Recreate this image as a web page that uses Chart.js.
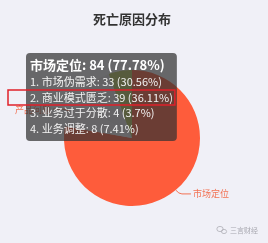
<!DOCTYPE html>
<html><head><meta charset="utf-8">
<script src="https://cdn.jsdelivr.net/npm/chart.js@4/dist/chart.umd.min.js"></script>
<style>html,body{margin:0;padding:0;background:#f0f0f7;} canvas{display:block;}</style>
</head><body><canvas id="c" width="268" height="243"></canvas>
<script>
const chartTitle = '死亡原因分布';
const categories = ['市场定位', '产品问题', '团队问题', '资金问题'];
const values = [84, 8, 10, 6];
const sliceColors = ['#fe5c3b', '#ece9ef', '#e4e2ea', '#b8c55a'];
const subCategories = ['市场伪需求', '商业模式匮乏', '业务过于分散', '业务调整'];
const subValues = [33, 39, 4, 8];
const highlightLine = 1;
const watermark = '三言财经';

const FONT = '"Noto Sans CJK SC", "Noto Sans", sans-serif';
const total = values.reduce((a, b) => a + b, 0);
const pct = v => parseFloat((v / total * 100).toFixed(2)) + '%';
const labelColor = '#f27254';

const TT = {padTop: 4, padBottom: 5.5, padX: 4, titleSize: 13, bodySize: 11, lh: 1.2, titleMB: 2.6, bodySpacing: 2.5};

Chart.Tooltip.positioners.fixedTopLeft = function () {
  const ca = this.chart.chartArea;
  const cx = (ca.left + ca.right) / 2, cy = (ca.top + ca.bottom) / 2;
  return {x: cx - 102, y: cy - 85, xAlign: 'left', yAlign: 'top'};
};

const labelPlugin = {
  id: 'outerLabels',
  afterDatasetsDraw(chart) {
    const meta = chart.getDatasetMeta(0);
    const ctx = chart.ctx;
    ctx.save();
    meta.data.forEach((arc, i) => {
      if (i > 1) return;
      const mid = (arc.startAngle + arc.endAngle) / 2;
      const dx = Math.cos(mid), dy = Math.sin(mid);
      const r = arc.outerRadius;
      const p0 = [arc.x + dx * r, arc.y + dy * r];
      const p1 = [arc.x + dx * (r + 5), arc.y + dy * (r + 5)];
      const s = dx >= 0 ? 1 : -1;
      const p2 = [p1[0] + s * 12, p1[1]];
      ctx.strokeStyle = labelColor;
      ctx.lineWidth = 1;
      ctx.beginPath();
      ctx.moveTo(p0[0], p0[1]);
      ctx.quadraticCurveTo(p1[0], p1[1], p1[0] + s * 3, p1[1]);
      ctx.lineTo(p2[0], p2[1]);
      ctx.stroke();
      ctx.fillStyle = labelColor;
      ctx.font = '9px ' + FONT;
      ctx.textBaseline = 'middle';
      ctx.textAlign = s > 0 ? 'left' : 'right';
      ctx.fillText(categories[i], p2[0] + s * 2, p2[1]);
    });
    ctx.restore();
  },
  afterDraw(chart) {
    const ctx = chart.ctx;
    const tt = chart.tooltip;
    ctx.save();
    if (tt && tt.opacity) {
      const bodyTop = tt.y + TT.padTop + TT.titleSize * TT.lh + TT.titleMB;
      const bl = TT.bodySize * TT.lh;
      const cyL = bodyTop + highlightLine * (bl + TT.bodySpacing) + bl / 2;
      ctx.strokeStyle = '#e0202a';
      ctx.lineWidth = 1.5;
      ctx.strokeRect(tt.x - 18, cyL - 7.5, tt.width + 16, 15);
    }
    // watermark
    const wx = chart.width - 10, wy = chart.height - 13;
    ctx.font = '7px ' + FONT;
    ctx.fillStyle = '#a8a8b0';
    ctx.textAlign = 'right';
    ctx.textBaseline = 'middle';
    ctx.fillText(watermark, wx, wy);
    const tw = ctx.measureText(watermark).width;
    const ix = wx - tw - 8;
    ctx.strokeStyle = '#b0b0b8';
    ctx.lineWidth = 0.8;
    ctx.beginPath(); ctx.ellipse(ix - 2, wy - 1, 3.2, 2.6, 0, 0, Math.PI * 2); ctx.stroke();
    ctx.beginPath(); ctx.ellipse(ix + 2, wy + 1.5, 2.6, 2.1, 0, 0, Math.PI * 2); ctx.stroke();
    ctx.restore();
  }
};

const chart = new Chart(document.getElementById('c'), {
  type: 'pie',
  data: {
    labels: categories,
    datasets: [{
      data: values,
      backgroundColor: sliceColors,
      hoverBackgroundColor: sliceColors,
      borderWidth: 0,
      hoverOffset: 0
    }]
  },
  options: {
    responsive: false,
    animation: false,
    events: [],
    layout: {padding: {left: 60, right: 64, top: 0, bottom: 37}},
    plugins: {
      legend: {display: false},
      title: {
        display: true, text: chartTitle, color: '#333',
        font: {family: FONT, size: 13, weight: 'bold', lineHeight: 1.2},
        padding: {top: 11, bottom: 43.4}
      },
      tooltip: {
        enabled: true,
        position: 'fixedTopLeft',
        xAlign: 'left', yAlign: 'top',
        backgroundColor: 'rgba(50,50,50,0.72)',
        titleColor: '#fff', bodyColor: '#f2f2f2',
        titleFont: {family: FONT, size: TT.titleSize, weight: 'bold', lineHeight: TT.lh},
        bodyFont: {family: FONT, size: TT.bodySize, lineHeight: TT.lh},
        titleMarginBottom: TT.titleMB, bodySpacing: TT.bodySpacing,
        padding: {top: TT.padTop, bottom: TT.padBottom, left: TT.padX, right: TT.padX},
        caretSize: 0, caretPadding: 0, cornerRadius: 4, displayColors: false,
        callbacks: {
          title: items => {
            const i = items[0].dataIndex;
            return `${categories[i]}: ${values[i]} (${pct(values[i])})`;
          },
          label: () => subCategories.map((c, k) => `${k + 1}. ${c}: ${subValues[k]} (${pct(subValues[k])})`)
        }
      }
    }
  },
  plugins: [labelPlugin]
});
chart.tooltip.setActiveElements([{datasetIndex: 0, index: 0}], {x: 0, y: 0});
chart.update();
</script></body></html>
